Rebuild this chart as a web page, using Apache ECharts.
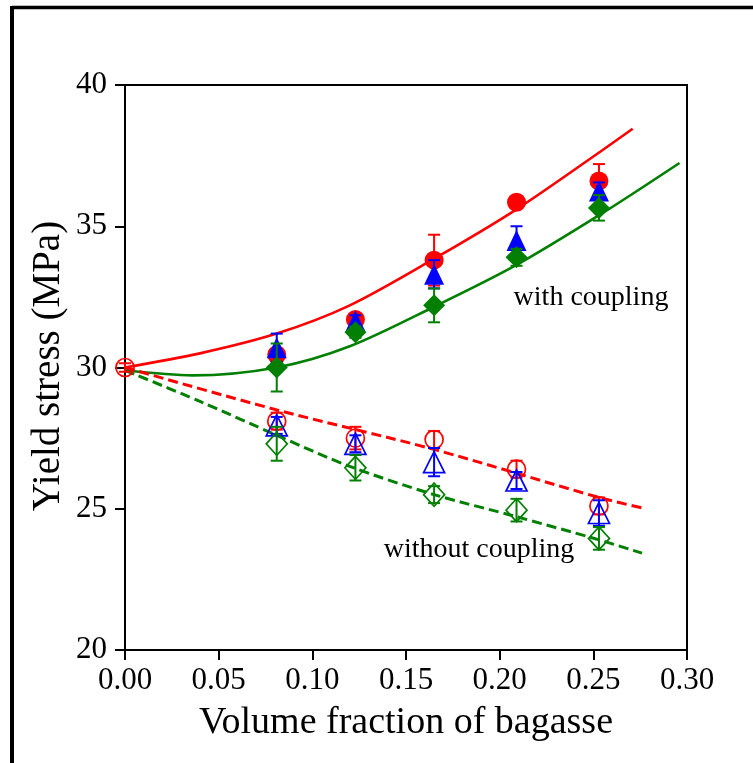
<!DOCTYPE html>
<html>
<head>
<meta charset="utf-8">
<script src="https://cdn.jsdelivr.net/npm/echarts@6/dist/echarts.min.js"></script>
<style>
html,body{margin:0;padding:0;background:#fff;}
#chart{width:753px;height:763px;}
</style>
</head>
<body>
<div id="chart"></div>
<script>
// ---- data ----
var xTicks = [0, 0.05, 0.10, 0.15, 0.20, 0.25, 0.30];
var yTicks = [20, 25, 30, 35, 40];
var xPts = [0.081, 0.123, 0.165, 0.209, 0.253];

// with coupling (filled markers)
var withRed = [30.45, 31.7, 33.8, 35.85, 36.6];
var withRedErr = [0.2, 0.2, 0.9, 0.15, 0.6];
var withBlue = [30.7, 31.65, 33.3, 34.5, 36.25];
var withBlueErr = [0.5, 0.2, 0.5, 0.5, 0.3];
var withGreen = [30.0, 31.25, 32.2, 33.9, 35.65];
var withGreenErr = [0.85, 0.2, 0.6, 0.3, 0.45];

// without coupling (open markers); red includes the origin point x = 0
var xPtsRed0 = [0, 0.081, 0.123, 0.165, 0.209, 0.253];
var woRed = [30.0, 28.1, 27.5, 27.45, 26.4, 25.1];
var woRedErr = [0.15, 0.3, 0.4, 0.3, 0.3, 0.3];
var woBlue = [27.95, 27.3, 26.65, 26.0, 24.85];
var woBlueErr = [0.3, 0.3, 0.5, 0.3, 0.45];
var woGreen = [27.3, 26.45, 25.5, 24.95, 23.95];
var woGreenErr = [0.6, 0.45, 0.3, 0.4, 0.4];

// model curves
var redSolidX = [0, 0.04, 0.081, 0.12, 0.165, 0.209, 0.255, 0.271];
var redSolidY = [30.0, 30.5, 31.2, 32.2, 33.85, 35.6, 37.7, 38.45];
var greenSolidX = [0, 0.036, 0.081, 0.12, 0.165, 0.209, 0.255, 0.296];
var greenSolidY = [29.9, 29.72, 30.0, 30.75, 32.15, 33.63, 35.47, 37.24];
var redDashX = [0, 0.081, 0.165, 0.253, 0.278];
var redDashY = [30.0, 28.5, 27.1, 25.4, 25.0];
var greenDashX = [0, 0.04, 0.081, 0.12, 0.165, 0.209, 0.253, 0.276];
var greenDashY = [29.9, 28.8, 27.6, 26.5, 25.5, 24.72, 23.9, 23.43];

var RED = '#ff0000', BLUE = '#0000ff', GREEN = '#007f00';
var FONT = '"Liberation Serif", "Times New Roman", serif';

function zip(xs, ys) { return xs.map(function (x, i) { return [x, ys[i]]; }); }
function zipErr(xs, ys, es) { return xs.map(function (x, i) { return [x, ys[i], es[i]]; }); }

function errSeries(xs, ys, es, color, z) {
  return {
    type: 'custom',
    z: z,
    silent: true,
    data: zipErr(xs, ys, es),
    renderItem: function (params, api) {
      var x = api.value(0), y = api.value(1), e = api.value(2);
      var top = api.coord([x, y + e]);
      var bot = api.coord([x, y - e]);
      var w = 6;
      var st = { stroke: color, lineWidth: 2 };
      return {
        type: 'group',
        children: [
          { type: 'line', shape: { x1: top[0], y1: top[1], x2: bot[0], y2: bot[1] }, style: st },
          { type: 'line', shape: { x1: top[0] - w, y1: top[1], x2: top[0] + w, y2: top[1] }, style: st },
          { type: 'line', shape: { x1: bot[0] - w, y1: bot[1], x2: bot[0] + w, y2: bot[1] }, style: st }
        ]
      };
    }
  };
}

function markSeries(xs, ys, symbol, size, color, filled, z) {
  return {
    type: 'scatter',
    z: z,
    silent: true,
    symbol: symbol,
    symbolSize: size,
    data: zip(xs, ys),
    itemStyle: filled ? { color: color, borderWidth: 0, opacity: 1 }
                      : { color: 'rgba(0,0,0,0)', borderColor: color, borderWidth: 1.7, opacity: 1 }
  };
}

function lineSeries(xs, ys, color, dashed) {
  return {
    type: 'line',
    z: 2,
    silent: true,
    showSymbol: false,
    symbol: 'none',
    smooth: 0.3,
    data: zip(xs, ys),
    lineStyle: { color: color, width: dashed ? 3 : 2.6, type: dashed ? [10, 5] : 'solid' }
  };
}

var chart = echarts.init(document.getElementById('chart'), null, { renderer: 'canvas' });

var option = {
  backgroundColor: '#ffffff',
  animation: false,
  grid: { left: 125, right: 66, top: 85, bottom: 113, show: true, borderColor: '#000', borderWidth: 2, backgroundColor: 'rgba(0,0,0,0)' },
  xAxis: {
    type: 'value',
    min: xTicks[0], max: xTicks[xTicks.length - 1], interval: 0.05,
    axisLine: { show: true, lineStyle: { color: '#000', width: 2 } },
    axisTick: { show: true, inside: false, length: 10, lineStyle: { color: '#000', width: 2 } },
    splitLine: { show: false },
    axisLabel: { color: '#000', fontFamily: FONT, fontSize: 31, margin: 15, showMinLabel: true, showMaxLabel: true,
      formatter: function (v) { return v.toFixed(2); } }
  },
  yAxis: {
    type: 'value',
    min: yTicks[0], max: yTicks[yTicks.length - 1], interval: 5,
    axisLine: { show: true, lineStyle: { color: '#000', width: 2 } },
    axisTick: { show: true, inside: false, length: 10, lineStyle: { color: '#000', width: 2 } },
    splitLine: { show: false },
    axisLabel: { color: '#000', fontFamily: FONT, fontSize: 31, margin: 18, showMinLabel: true, showMaxLabel: true }
  },
  graphic: [
    { type: 'line', shape: { x1: 12, y1: 7.5, x2: 753, y2: 7.5 }, style: { stroke: '#000', lineWidth: 3.5 } },
    { type: 'line', shape: { x1: 12, y1: 6, x2: 12, y2: 763 }, style: { stroke: '#000', lineWidth: 4 } },
    { type: 'text', x: 406, y: 723, style: { text: 'Volume fraction of bagasse', font: '38px ' + FONT, fill: '#000',
      align: 'center', verticalAlign: 'middle', textAlign: 'center', textVerticalAlign: 'middle' } },
    { type: 'text', x: 49, y: 366, rotation: Math.PI / 2, style: { text: 'Yield stress (MPa)', font: '39px ' + FONT, fill: '#000',
      align: 'center', verticalAlign: 'middle', textAlign: 'center', textVerticalAlign: 'middle' } },
    { type: 'text', x: 591, y: 298, style: { text: 'with coupling', font: '28px ' + FONT, fill: '#000',
      align: 'center', verticalAlign: 'middle', textAlign: 'center', textVerticalAlign: 'middle' } },
    { type: 'text', x: 479, y: 550, style: { text: 'without coupling', font: '28px ' + FONT, fill: '#000',
      align: 'center', verticalAlign: 'middle', textAlign: 'center', textVerticalAlign: 'middle' } }
  ],
  series: [
    lineSeries(redSolidX, redSolidY, RED, false),
    lineSeries(greenSolidX, greenSolidY, GREEN, false),
    lineSeries(redDashX, redDashY, RED, true),
    lineSeries(greenDashX, greenDashY, GREEN, true),

    errSeries(xPtsRed0, woRed, woRedErr, RED, 3),
    markSeries(xPtsRed0, woRed, 'circle', 18, RED, false, 4),
    errSeries(xPts, woBlue, woBlueErr, BLUE, 5),
    markSeries(xPts, woBlue, 'triangle', [21, 21], BLUE, false, 6),
    errSeries(xPts, woGreen, woGreenErr, GREEN, 7),
    markSeries(xPts, woGreen, 'diamond', [21, 23], GREEN, false, 8),

    errSeries(xPts, withRed, withRedErr, RED, 9),
    markSeries(xPts, withRed, 'circle', 19, RED, true, 10),
    errSeries(xPts, withBlue, withBlueErr, BLUE, 11),
    markSeries(xPts, withBlue, 'triangle', [20, 21], BLUE, true, 12),
    errSeries(xPts, withGreen, withGreenErr, GREEN, 13),
    markSeries(xPts, withGreen, 'diamond', [22, 22], GREEN, true, 14)
  ]
};
chart.setOption(option);
</script>
</body>
</html>
